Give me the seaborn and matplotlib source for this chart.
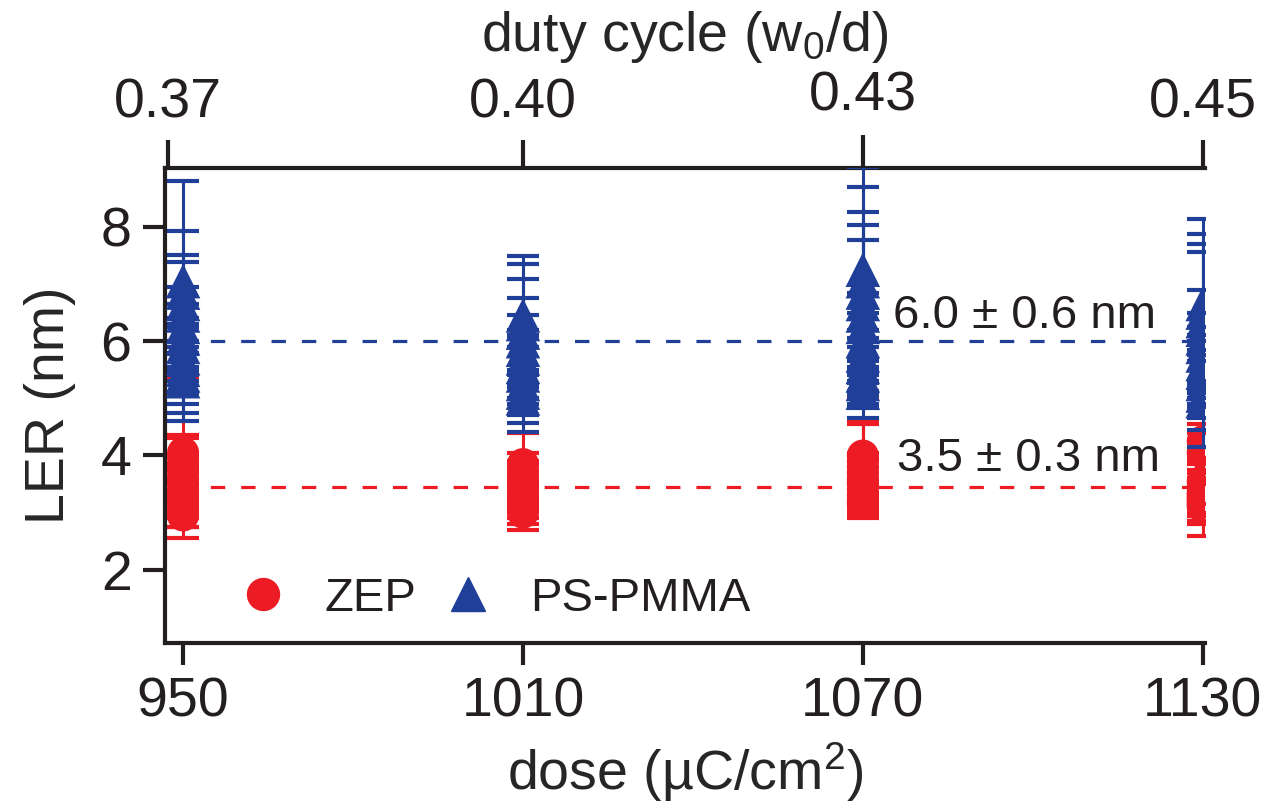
import matplotlib
matplotlib.use("Agg")
import matplotlib.pyplot as plt
from matplotlib.lines import Line2D
import seaborn as sns
import pandas as pd

# ---------------- data ----------------
doses = [950, 1010, 1070, 1130]
duty_labels = ["0.37", "0.40", "0.43", "0.45"]

zep_950 = [4.05, 3.95, 3.85, 3.7, 3.6, 3.5, 3.4, 3.3, 3.2, 3.1, 3.0, 2.95]
zep_950_err = [0.3, 1.4, 0.45, 0.3, 0.25, 0.3, 0.2, 0.25, 0.3, 0.2, 0.25, 0.2]
zep_1010 = [3.85, 3.75, 3.65, 3.55, 3.5, 3.45, 3.4, 3.3, 3.2, 3.1, 3.0]
zep_1010_err = [0.55, 0.3, 0.25, 0.3, 0.2, 0.25, 0.3, 0.25, 0.3, 0.3, 0.3]
zep_1070 = [4.0, 3.9, 3.8, 3.7, 3.6, 3.55, 3.5, 3.4, 3.3, 3.2, 3.15]
zep_1070_err = [1.0, 0.65, 0.8, 0.35, 0.3, 0.4, 0.3, 0.3, 0.25, 0.3, 0.2]
zep_1130 = [4.25, 4.05, 3.55, 3.45, 3.35, 3.3, 3.25, 3.2, 3.15, 3.1]
zep_1130_err = [0.3, 0.35, 0.4, 0.45, 0.5, 0.45, 0.3, 0.35, 0.35, 0.5]

ps_950 = [7.05, 6.85, 6.65, 6.45, 6.25, 6.05, 5.9, 5.7, 5.5, 5.4, 5.3]
ps_950_err = [1.75, 1.08, 0.85, 0.93, 0.7, 0.6, 0.5, 0.6, 0.75, 0.5, 0.7]
ps_1010 = [6.45, 6.3, 6.15, 6.0, 5.85, 5.7, 5.55, 5.4, 5.25, 5.1, 5.0]
ps_1010_err = [1.04, 1.05, 0.94, 0.76, 0.6, 0.5, 0.55, 0.5, 0.84, 0.4, 0.43]
ps_1070 = [7.25, 7.05, 6.85, 6.65, 6.45, 6.25, 6.0, 5.75, 5.55, 5.4, 5.25, 5.1]
ps_1070_err = [1.8, 1.65, 1.41, 1.38, 1.32, 0.6, 0.5, 0.45, 0.5, 0.5, 0.42, 0.44]
ps_1130 = [6.65, 6.5, 6.35, 6.2, 6.05, 5.9, 5.75, 5.6, 5.45, 5.25, 5.05, 4.95]
ps_1130_err = [1.49, 1.38, 1.35, 1.36, 0.85, 0.6, 0.5, 0.5, 0.55, 0.6, 0.6, 0.8]

zep_mean = 3.45
ps_mean = 6.0
zep_text = "3.5 ± 0.3 nm"
ps_text = "6.0 ± 0.6 nm"

# ---------------- build table ----------------
rows = []
for mat, groups in [
    ("ZEP", [(950, zep_950, zep_950_err), (1010, zep_1010, zep_1010_err),
             (1070, zep_1070, zep_1070_err), (1130, zep_1130, zep_1130_err)]),
    ("PS-PMMA", [(950, ps_950, ps_950_err), (1010, ps_1010, ps_1010_err),
                 (1070, ps_1070, ps_1070_err), (1130, ps_1130, ps_1130_err)]),
]:
    for d, vals, errs in groups:
        for v, e in zip(vals, errs):
            rows.append({"material": mat, "dose": d, "LER": v, "err": e})
df = pd.DataFrame(rows)

RED = "#ED1C24"
BLUE = "#1F3F98"
INK = "#231F20"
colors = {"ZEP": RED, "PS-PMMA": BLUE}
markers = {"ZEP": "o", "PS-PMMA": "^"}

sns.set_theme(style="white")
plt.rcParams["font.family"] = ["Liberation Sans", "DejaVu Sans"]
plt.rcParams["text.color"] = INK
plt.rcParams["mathtext.fontset"] = "custom"
plt.rcParams["mathtext.rm"] = "Liberation Sans"
plt.rcParams["mathtext.it"] = "Liberation Sans"

fig = plt.figure(figsize=(12.64, 8.10), dpi=100)
ax = fig.add_axes([0.1305, 0.2062, 0.8228, 0.5864])

z = 2
for mat in ["ZEP", "PS-PMMA"]:
    sub = df[df["material"] == mat]
    ax.errorbar(sub["dose"], sub["LER"], yerr=sub["err"], fmt="none",
                ecolor=colors[mat], elinewidth=2.2, capsize=11.5, capthick=3,
                zorder=z)
    sns.scatterplot(data=sub, x="dose", y="LER", marker=markers[mat],
                    color=colors[mat], s=530 if mat == "ZEP" else 620,
                    edgecolor="none", linewidth=0, ax=ax, zorder=z + 1,
                    legend=False)
    z += 2

ax.axhline(ps_mean, xmin=0.014, xmax=0.995, color=BLUE, lw=2.3,
           ls=(0, (4.5, 5)), zorder=1)
ax.axhline(zep_mean, xmin=0.014, xmax=0.995, color=RED, lw=2.3,
           ls=(0, (4.5, 5)), zorder=1)

ax.text(1075.3, 6.44, ps_text, fontsize=34, va="center", ha="left", color=INK)
ax.text(1076.0, 3.94, zep_text, fontsize=34, va="center", ha="left", color=INK)

ax.set_xlim(946.8, 1130.4)
ax.set_ylim(0.72, 9.03)
ax.set_xticks(doses)
ax.set_xticklabels([str(d) for d in doses])
ax.set_yticks([2, 4, 6, 8])
ax.set_xlabel("dose (µC/cm$^2$)", fontsize=40, labelpad=9)
ax.set_ylabel("LER (nm)", fontsize=40, labelpad=18)

for side in ["left", "bottom", "top"]:
    ax.spines[side].set_visible(True)
    ax.spines[side].set_color(INK)
    ax.spines[side].set_linewidth(3)
ax.spines["right"].set_visible(False)
ax.tick_params(axis="both", which="major", direction="out", length=16,
               width=3, color=INK, labelsize=40, pad=8,
               bottom=True, left=True, labelcolor=INK)

ax2 = ax.twiny()
ax2.set_xlim(ax.get_xlim())
ax2.set_xticks([947.3, 1010, 1070, 1130])
ax2.set_xticklabels(duty_labels)
ax2.tick_params(axis="x", direction="out", length=20, width=3,
                color=INK, labelsize=40, pad=8, top=True, labelcolor=INK)
ax2.set_xlabel("duty cycle (w$_0$/d)", fontsize=40, labelpad=14)
for s in ax2.spines.values():
    s.set_visible(False)
t43 = ax2.xaxis.get_major_ticks()[2]
t43.set_pad(13)
t43.tick2line.set_markersize(24)

handles = [
    Line2D([], [], marker="o", color=RED, ls="none", markersize=23),
    Line2D([], [], marker="^", color=BLUE, ls="none", markersize=24),
]
ax.legend(handles, ["ZEP", "PS-PMMA"], ncol=2, frameon=False, fontsize=34,
          loc="center left", bbox_to_anchor=(0.0715, 0.0926), borderpad=0,
          handletextpad=0.81, columnspacing=0.585, handlelength=1.0,
          borderaxespad=0)

fig.savefig("out.png", dpi=100)
